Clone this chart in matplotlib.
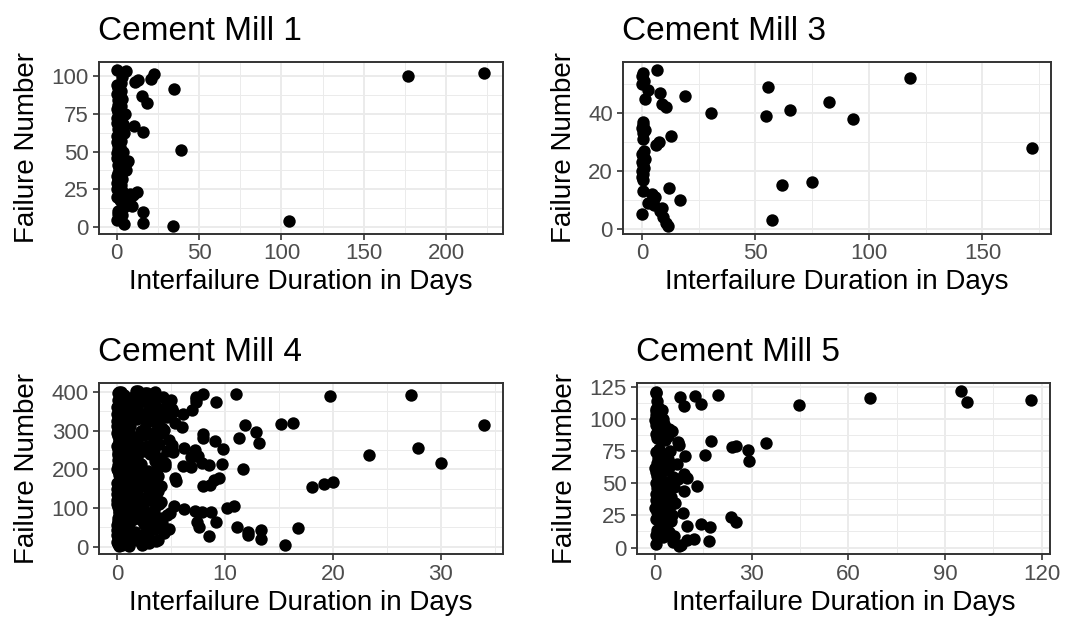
import matplotlib
matplotlib.use("Agg")
import matplotlib.pyplot as plt
import numpy as np

plt.rcParams['font.family'] = ['Liberation Sans', 'DejaVu Sans']

# ---------------------------------------------------------------- data
titles = ["Cement Mill 1", "Cement Mill 3", "Cement Mill 4", "Cement Mill 5"]
x_label = "Interfailure Duration in Days"
y_label = "Failure Number"

# interfailure durations (days), in order of failure number 1..N
mill1_days = [
    34.2, 4.6, 16.0, 104.5, 0.3, 2.1, 1.2, 3.4, 0.6, 15.8,
    1.0, 2.6, 4.1, 9.0, 6.2, 4.8, 7.4, 2.2, 5.1, 0.4,
    9.6, 7.9, 12.6, 3.0, 0.2, 1.4, 0.8, 2.7, 0.1, 1.9,
    0.5, 3.2, 1.1, 0.3, 2.4, 0.9, 4.0, 5.8, 1.6, 3.1,
    0.7, 5.2, 6.4, 6.9, 2.0, 0.4, 1.3, 2.8, 0.2, 3.9,
    39.2, 1.0, 2.3, 0.6, 1.7, 0.1, 2.9, 0.8, 1.5, 0.3,
    2.2, 4.4, 16.1, 3.6, 0.9, 1.8, 10.4, 4.1, 0.4, 2.5,
    1.2, 0.2, 3.3, 1.6, 5.0, 0.7, 2.0, 0.3, 1.4, 2.6,
    0.5, 18.3, 2.1, 0.9, 3.0, 1.1, 15.2, 0.4, 1.9, 2.7,
    34.5, 0.6, 1.5, 0.2, 2.4, 11.4, 13.2, 21.0, 3.1, 177.1,
    22.4, 223.1, 5.8, 0.4,
]

mill3_days = [
    11.5, 10.4, 57.3, 9.2, 0.2, 8.1, 8.7, 5.2, 2.6, 16.8,
    5.8, 4.6, 0.4, 11.7, 61.8, 75.0, 0.3, 0.1, 0.5, 0.2,
    1.1, 0.4, 0.0, 1.3, 0.6, 0.2, 0.8, 171.6, 6.1, 7.4,
    0.3, 12.9, 0.5, 1.4, 0.2, 0.6, 0.3, 92.9, 54.8, 30.3,
    65.3, 10.6, 8.8, 82.6, 1.3, 19.1, 7.9, 2.8, 55.6, 0.2,
    0.9, 118.2, 0.1, 0.4, 6.4,
]

# Mill 4: short stoppages for every failure, then the longer gaps by failure number
mill4_short_days = [
    0.2, 1.1, 0.5, 0.0, 2.3, 0.7, 0.1, 1.6, 0.4, 0.9,
    0.0, 2.6, 0.3, 0.2, 1.3, 0.6, 0.1, 1.9, 0.4, 0.8,
    1.0, 0.2, 0.5, 2.0, 0.1, 0.3, 1.4, 0.7, 0.0, 2.4,
    0.6, 0.1, 1.2, 0.3, 0.8, 0.2, 1.7, 0.5, 2.7, 0.1,
    0.4, 1.5, 0.0, 0.9, 0.2, 2.2, 0.6, 0.3, 1.1, 0.1,
    1.8, 0.5, 0.2, 0.7, 1.3, 0.0, 0.4, 2.5, 0.8, 0.3,
    0.1, 1.0, 0.6, 0.2, 1.9, 0.4, 0.1, 0.8, 1.4, 0.0,
    2.1, 0.3, 0.7, 0.1, 1.2, 0.5, 0.2, 1.6, 0.9, 0.4,
    0.0, 0.6, 2.8, 0.3, 1.1, 0.2, 0.8, 0.1, 1.5, 0.5,
    0.7, 0.2, 1.3, 0.4, 0.0, 2.0, 0.6, 0.3, 1.0, 0.1,
    1.7, 0.4, 0.1, 0.9, 0.5, 2.3, 0.2, 1.2, 0.0, 0.6,
    0.3, 1.4, 0.8, 0.1, 2.6, 0.4, 0.7, 0.2, 1.1, 0.5,
    0.0, 1.8, 0.3, 0.6, 0.1, 1.0, 2.2, 0.4, 0.2, 0.9,
    1.5, 0.1, 0.5, 0.3, 1.9, 0.7, 0.0, 1.2, 0.4, 2.4,
    0.2, 0.8, 1.3, 0.1, 0.6, 0.3, 1.7, 0.0, 0.9, 0.4,
    2.0, 0.5, 0.2, 1.1, 0.7, 0.1, 1.4, 0.3, 2.7, 0.6,
    0.1, 1.2, 0.4, 0.0, 0.8, 2.1, 0.5, 0.2, 1.6, 0.3,
    0.9, 0.2, 1.8, 0.6, 0.1, 1.0, 0.4, 2.3, 0.0, 0.7,
    0.3, 1.5, 0.1, 0.8, 1.2, 0.2, 0.5, 1.9, 0.6, 0.0,
    2.5, 0.4, 0.9, 0.2, 1.3, 0.1, 0.7, 0.3, 1.1, 0.5,
    0.0, 1.6, 0.3, 2.0, 0.6, 0.2, 1.0, 0.4, 0.1, 1.4,
    0.8, 0.1, 2.2, 0.5, 0.3, 1.7, 0.0, 0.9, 0.4, 1.2,
    0.2, 0.7, 1.1, 0.1, 2.6, 0.4, 0.6, 0.3, 1.5, 0.0,
    1.9, 0.3, 0.5, 1.0, 0.2, 0.8, 2.1, 0.1, 0.6, 0.4,
    0.1, 1.3, 0.7, 0.0, 1.8, 0.3, 0.5, 2.4, 0.2, 0.9,
    1.2, 0.4, 0.1, 1.6, 0.6, 0.2, 1.0, 0.3, 2.8, 0.5,
    0.0, 0.9, 1.4, 0.3, 0.1, 2.0, 0.7, 0.4, 1.1, 0.2,
    0.6, 2.3, 0.2, 0.8, 1.3, 0.0, 0.5, 1.7, 0.3, 0.1,
    1.0, 0.4, 1.9, 0.2, 0.6, 1.2, 0.1, 0.8, 2.5, 0.3,
    0.5, 0.1, 1.5, 0.7, 0.0, 1.1, 0.4, 2.2, 0.2, 0.9,
    0.3, 1.8, 0.6, 0.1, 1.0, 0.4, 2.6, 0.2, 0.7, 1.3,
    0.0, 0.5, 1.2, 2.0, 0.3, 0.8, 0.1, 1.6, 0.4, 0.6,
    2.4, 0.2, 0.9, 0.4, 1.4, 0.0, 0.7, 0.3, 1.9, 0.1,
    0.8, 1.1, 0.2, 0.6, 2.1, 0.3, 0.5, 1.0, 0.1, 1.7,
    0.4, 0.0, 1.5, 0.9, 0.2, 2.7, 0.6, 0.1, 1.2, 0.3,
    1.6, 0.5, 0.2, 1.0, 0.7, 0.1, 2.3, 0.4, 0.8, 0.0,
    0.3, 1.9, 0.6, 0.1, 1.3, 0.5, 0.2, 1.1, 2.0, 0.4,
    0.9, 0.2, 1.4, 0.0, 0.6, 2.2, 0.3, 0.7, 0.1, 1.8,
    0.5, 1.2, 0.1, 2.5, 0.4, 0.8, 0.2, 1.5, 0.6, 0.0,
    1.1, 0.3, 0.7, 0.2, 1.9, 0.5, 0.1, 2.1, 0.4, 0.9,
    0.2, 1.3, 0.6,
]
mill4_long_days = {
    4: 15.6, 8: 2.4, 10: 3.0, 14: 3.6, 16: 3.2, 17: 3.8, 19: 13.3, 22: 2.9,
    28: 8.5, 30: 12.1, 35: 4.4, 38: 12.1, 42: 13.3, 45: 3.5, 46: 4.8,
    47: 16.8, 50: 7.6, 51: 11.1, 55: 3.1, 60: 4.2, 63: 7.4, 64: 9.2,
    65: 4.1, 66: 2.4, 70: 3.6, 75: 4.0, 81: 4.6, 84: 3.2, 87: 2.9,
    88: 4.9, 89: 8.7, 90: 7.9, 91: 7.2, 95: 3.4, 98: 6.2, 100: 10.2,
    105: 5.3, 106: 10.8, 107: 2.4, 110: 3.9, 115: 4.1, 120: 3.0,
    125: 3.4, 132: 3.6, 140: 3.2, 145: 3.8, 150: 2.9, 155: 18.1,
    156: 4.1, 157: 8.0, 160: 8.6, 161: 19.2, 165: 3.5, 167: 20.0,
    170: 5.5, 172: 9.0, 175: 3.1, 177: 5.4, 178: 9.5, 179: 2.9,
    183: 3.8, 187: 3.2, 190: 3.3, 195: 2.9, 200: 3.7, 202: 11.7,
    207: 6.9, 208: 6.1, 209: 4.5, 210: 8.5, 214: 9.7, 215: 30.0,
    216: 7.9, 217: 4.5, 221: 3.5, 225: 3.6, 230: 4.1, 233: 6.9,
    234: 7.2, 235: 7.5, 237: 23.3, 240: 3.1, 244: 5.2, 247: 4.6,
    250: 3.4, 251: 7.2, 252: 9.8, 254: 6.2, 255: 27.9, 260: 3.0,
    263: 5.1, 265: 3.9, 269: 13.2, 272: 9.1, 275: 3.4, 276: 4.8,
    280: 11.3, 281: 8.0, 285: 3.4, 290: 3.2, 292: 8.0, 293: 4.2,
    297: 12.9, 300: 3.6, 302: 4.4, 306: 4.2, 310: 6.0, 314: 11.9,
    315: 34.0, 318: 15.2, 319: 16.3, 320: 5.4, 321: 2.8, 325: 3.4,
    330: 3.9, 332: 2.9, 336: 4.6, 340: 3.3, 344: 6.1, 348: 5.2,
    352: 3.0, 353: 7.0, 356: 4.1, 357: 5.1, 361: 3.2, 365: 3.5,
    368: 4.6, 370: 3.0, 373: 7.3, 374: 9.2, 378: 5.0, 380: 3.4,
    383: 7.3, 386: 4.3, 387: 7.3, 390: 19.75, 391: 27.2, 394: 8.0,
    395: 11.0, 396: 2.8, 398: 2.6, 400: 3.5, 402: 1.8, 403: 2.0,
}

mill5_days = [
    7.3, 8.2, 0.4, 5.6, 16.8, 9.8, 12.1, 2.4, 6.0, 0.3,
    1.2, 4.2, 2.8, 0.6, 3.5, 17.0, 10.0, 14.4, 1.8, 25.2,
    4.9, 0.2, 2.1, 23.5, 5.4, 1.0, 8.8, 0.5, 3.7, 1.4,
    0.1, 4.6, 2.2, 0.8, 6.3, 1.7, 0.3, 3.0, 5.1, 0.9,
    2.5, 0.2, 4.0, 9.0, 1.3, 0.6, 5.8, 13.1, 2.9, 0.4,
    3.6, 1.1, 7.0, 10.0, 5.5, 0.7, 9.0, 2.0, 0.3, 3.3,
    1.5, 0.1, 4.4, 2.6, 6.8, 0.5, 29.1, 1.9, 3.9, 0.8,
    9.4, 15.5, 2.3, 0.2, 4.8, 28.8, 1.2, 24.0, 25.2, 7.5,
    34.5, 7.0, 17.3, 3.1, 0.6, 2.0, 4.1, 0.3, 1.4, 2.7,
    5.2, 4.5, 0.9, 1.8, 0.2, 2.9, 0.5, 1.1, 0.1, 2.4,
    0.7, 1.6, 0.3, 0.9, 1.3, 0.4, 2.1, 0.2, 0.8, 9.1,
    44.8, 14.2, 96.8, 0.5, 116.7, 66.7, 7.7, 12.4, 19.4, 0.3,
    0.4, 94.8,
]

x_breaks = [[0, 50, 100, 150, 200], [0, 50, 100, 150], [0, 10, 20, 30],
            [0, 30, 60, 90, 120]]
y_breaks = [[0, 25, 50, 75, 100], [0, 20, 40], [0, 100, 200, 300, 400],
            [0, 25, 50, 75, 100, 125]]

# ---------------------------------------------------------------- assemble
assert len(mill4_short_days) == 403
mill4_days = list(mill4_short_days)
for failure_no, days in mill4_long_days.items():
    mill4_days[failure_no - 1] = days

series = [mill1_days, mill3_days, mill4_days, mill5_days]

# ---------------------------------------------------------------- layout
W, H, DPI = 1067, 626, 100
fig = plt.figure(figsize=(W / DPI, H / DPI), dpi=DPI)
fig.patch.set_facecolor("white")

# panel boxes in pixels: left, top, right, bottom
boxes = [(98.5, 62, 502.5, 233.5), (622.5, 62, 1051, 233.5),
         (98.5, 383, 502.5, 554), (636.5, 383, 1050, 554)]

INK = "#333333"
GRID = "#EBEBEB"


def expand(lo, hi, frac=0.05):
    span = hi - lo
    return lo - frac * span, hi + frac * span


def minor_between(breaks, lo, hi):
    step = breaks[1] - breaks[0]
    vals = np.arange(breaks[0] - step / 2, breaks[-1] + step, step)
    return [v for v in vals if lo <= v <= hi]


for title, days, xb, yb, (l, t, r, b) in zip(titles, series, x_breaks, y_breaks, boxes):
    ax = fig.add_axes([l / W, 1 - b / H, (r - l) / W, (b - t) / H])
    failure_no = np.arange(1, len(days) + 1)
    days = np.asarray(days, dtype=float)

    ax.scatter(days, failure_no, s=80, c="black", linewidths=0, zorder=3)

    xlo, xhi = expand(days.min(), days.max())
    ylo, yhi = expand(failure_no.min(), failure_no.max())
    ax.set_xlim(xlo, xhi)
    ax.set_ylim(ylo, yhi)

    ax.set_xticks(xb)
    ax.set_yticks(yb)
    ax.set_xticks(minor_between(xb, xlo, xhi), minor=True)
    ax.set_yticks(minor_between(yb, ylo, yhi), minor=True)

    ax.set_axisbelow(True)
    ax.grid(which="major", color=GRID, linewidth=1.4)
    ax.grid(which="minor", color=GRID, linewidth=0.7)

    for sp in ax.spines.values():
        sp.set_color(INK)
        sp.set_linewidth(1.4)

    ax.tick_params(which="major", direction="out", length=4, width=1.2,
                   color=INK, labelsize=16, labelcolor="#4D4D4D", pad=3)
    ax.tick_params(which="minor", length=0)

    ax.set_xlabel(x_label, fontsize=20, labelpad=3.5)
    ax.set_ylabel(y_label, fontsize=20, labelpad=8)
    ax.set_title(title, loc="left", fontsize=24, pad=16)

fig.savefig("out.png", dpi=DPI)
